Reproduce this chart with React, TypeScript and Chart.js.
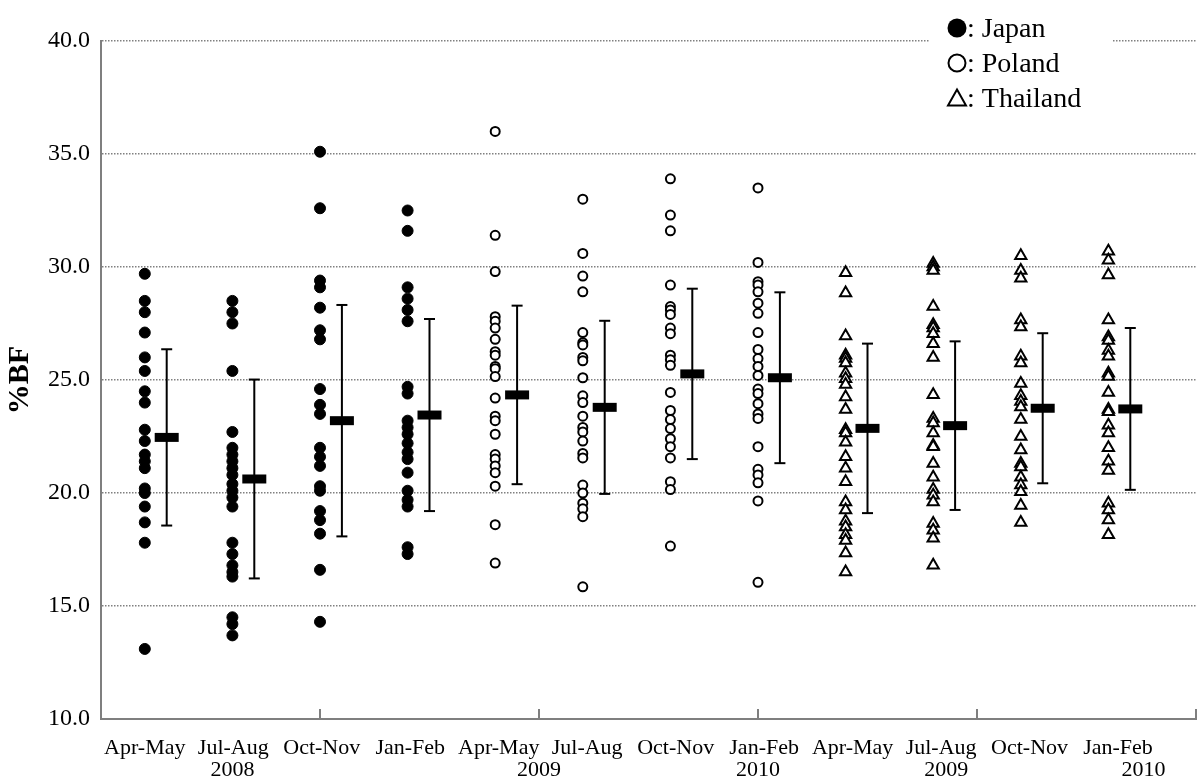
import React, { useEffect, useRef } from 'react';
import { Chart, registerables } from 'chart.js';

Chart.register(...registerables);

const CATEGORIES = ['Apr-May', 'Jul-Aug', 'Oct-Nov', 'Jan-Feb', 'Apr-May', 'Jul-Aug', 'Oct-Nov', 'Jan-Feb', 'Apr-May', 'Jul-Aug', 'Oct-Nov', 'Jan-Feb'];
const YEAR_LABELS = ['2008', '2009', '2010', '2009', '2010'];
const Y_TICKS = [10, 15, 20, 25, 30, 35, 40];
const LEGEND_LABELS = ['Japan', 'Poland', 'Thailand'];

const JAPAN = [
  [29.7, 28.5, 28.0, 27.1, 26.0, 25.4, 24.5, 24.0, 22.8, 22.3, 21.7, 21.4, 21.1, 20.2, 20.0, 19.4, 18.7, 17.8, 13.1],
  [28.5, 28.0, 27.5, 25.4, 22.7, 22.0, 21.7, 21.4, 21.1, 20.8, 20.4, 20.1, 19.8, 19.4, 17.8, 17.3, 16.8, 16.5, 16.3, 14.5, 14.2, 13.7],
  [35.1, 32.6, 29.4, 29.1, 28.2, 27.2, 26.8, 24.6, 23.9, 23.5, 22.0, 21.6, 21.2, 20.3, 20.1, 19.2, 18.8, 18.2, 16.6, 14.3],
  [32.5, 31.6, 29.1, 28.6, 28.1, 27.6, 24.7, 24.4, 23.2, 22.9, 22.6, 22.2, 21.8, 21.5, 20.9, 20.1, 19.7, 19.4, 17.6, 17.3],
];
const POLAND = [
  [36.0, 31.4, 29.8, 27.8, 27.6, 27.3, 26.8, 26.25, 26.1, 25.6, 25.5, 25.15, 24.2, 23.4, 23.2, 22.6, 21.7, 21.5, 21.2, 20.9, 20.3, 18.6, 16.9],
  [33.0, 30.6, 29.6, 28.9, 27.1, 26.65, 26.55, 26.0, 25.85, 25.1, 24.3, 24.0, 23.4, 22.9, 22.7, 22.3, 21.75, 21.55, 20.35, 20.0, 19.55, 19.3, 18.95, 15.85],
  [33.9, 32.3, 31.6, 29.2, 28.25, 28.1, 27.9, 27.3, 27.05, 26.1, 25.9, 25.65, 24.45, 23.65, 23.25, 22.85, 22.4, 22.05, 21.55, 20.5, 20.15, 17.65],
  [33.5, 30.2, 29.35, 29.2, 28.9, 28.4, 27.95, 27.1, 26.35, 25.95, 25.6, 25.2, 24.6, 24.4, 23.95, 23.5, 23.3, 22.05, 21.05, 20.8, 20.45, 19.65, 16.05],
];
const THAILAND = [
  [29.75, 28.85, 26.95, 26.1, 25.95, 25.75, 25.3, 25.05, 24.8, 24.25, 23.7, 22.8, 22.65, 22.25, 21.6, 21.1, 20.5, 19.6, 19.25, 18.75, 18.5, 18.15, 17.9, 17.35, 16.5],
  [30.15, 30.0, 29.85, 28.25, 27.45, 27.3, 27.05, 26.6, 26.0, 24.35, 23.3, 23.1, 22.65, 22.1, 22.05, 21.3, 20.7, 20.15, 19.9, 19.6, 18.65, 18.35, 18.0, 16.8],
  [30.5, 29.85, 29.5, 27.65, 27.35, 26.05, 25.75, 24.85, 24.3, 24.05, 23.8, 23.25, 22.5, 21.9, 21.3, 21.15, 20.7, 20.35, 20.05, 19.45, 18.7],
  [30.7, 30.3, 29.65, 27.65, 26.9, 26.75, 26.3, 26.05, 25.3, 25.15, 24.45, 23.7, 23.6, 23.0, 22.65, 22.0, 21.4, 21.0, 19.55, 19.25, 18.8, 18.15],
];
const MEANS = [22.46, 20.62, 23.2, 23.45, 24.34, 23.79, 25.27, 25.1, 22.86, 22.98, 23.75, 23.72];
const SDS = [3.9, 4.4, 5.12, 4.25, 3.95, 3.83, 3.77, 3.78, 3.75, 3.73, 3.32, 3.58];

const FONT = "'Liberation Serif', 'Times New Roman', serif";

const decorPlugin = {
  id: 'decor',
  afterDraw(chart: any) {
    const { ctx, chartArea, scales } = chart;
    const xs = scales.x;
    ctx.save();
    // inward tick marks on the x axis
    ctx.strokeStyle = '#7f7f7f';
    ctx.lineWidth = 2;
    xs.ticks.forEach((t: any, i: number) => {
      if (i === 0) return;
      const px = xs.getPixelForValue(t.value);
      ctx.beginPath();
      ctx.moveTo(px, chartArea.bottom);
      ctx.lineTo(px, chartArea.bottom - 10);
      ctx.stroke();
    });
    // category labels
    ctx.fillStyle = '#000';
    ctx.font = `22px ${FONT}`;
    ctx.textAlign = 'center';
    ctx.textBaseline = 'alphabetic';
    CATEGORIES.forEach((c, i) => {
      ctx.fillText(c, xs.getPixelForValue(i * 1.01), chartArea.bottom + 35);
    });
    const yearAt = [1, 4.5, 7, 9.15, 11.4];
    YEAR_LABELS.forEach((y, i) => {
      ctx.fillText(y, xs.getPixelForValue(yearAt[i]), chartArea.bottom + 57);
    });
    // legend
    const lx = chartArea.right - 267;
    ctx.fillStyle = '#fff';
    ctx.fillRect(lx, 0, 184, 115);
    ctx.fillStyle = '#000';
    ctx.strokeStyle = '#000';
    ctx.lineWidth = 2;
    const mx = lx + 28;
    const base = [37, 72, 107];
    ctx.beginPath();
    ctx.arc(mx, base[0] - 9, 9.5, 0, Math.PI * 2);
    ctx.fill();
    ctx.beginPath();
    ctx.arc(mx, base[1] - 9, 8.5, 0, Math.PI * 2);
    ctx.stroke();
    const ty = base[2] - 9;
    ctx.beginPath();
    ctx.moveTo(mx, ty - 8.5);
    ctx.lineTo(mx + 9, ty + 7.5);
    ctx.lineTo(mx - 9, ty + 7.5);
    ctx.closePath();
    ctx.stroke();
    ctx.font = `28px ${FONT}`;
    ctx.textAlign = 'left';
    LEGEND_LABELS.forEach((l, i) => {
      ctx.fillText(': ' + l, mx + 10, base[i]);
    });
    ctx.restore();
  },
};

export default function App() {
  const ref = useRef<HTMLCanvasElement>(null);
  useEffect(() => {
    if (!ref.current) return;
    const japanData = JAPAN.flatMap((vals, c) => vals.map((v) => ({ x: c, y: v })));
    const polandData = POLAND.flatMap((vals, c) => vals.map((v) => ({ x: 4 + c, y: v })));
    const thaiData = THAILAND.flatMap((vals, c) => vals.map((v) => ({ x: 8 + c, y: v })));
    const meanData = MEANS.map((m, i) => ({ x: i + 0.25, y: m }));
    const errData = MEANS.flatMap((m, i) => [
      { x: i + 0.25, y: m - SDS[i] },
      { x: i + 0.25, y: m + SDS[i] },
      { x: i + 0.25, y: null },
    ]);
    const chart = new Chart(ref.current, {
      type: 'scatter',
      data: {
        datasets: [
          {
            label: 'mean',
            data: meanData,
            pointStyle: 'line',
            pointRadius: 12,
            pointBorderWidth: 9,
            pointBorderColor: '#000',
            pointBackgroundColor: '#000',
          },
          {
            label: 'sd',
            type: 'line',
            data: errData as any,
            showLine: true,
            spanGaps: false,
            borderColor: '#000',
            borderWidth: 2,
            pointStyle: 'line',
            pointRadius: 5.5,
            pointBorderWidth: 2,
            pointBorderColor: '#000',
          },
          {
            label: 'Japan',
            data: japanData,
            pointStyle: 'circle',
            pointRadius: 5.5,
            pointBorderWidth: 1,
            pointBackgroundColor: '#000',
            pointBorderColor: '#000',
          },
          {
            label: 'Poland',
            data: polandData,
            pointStyle: 'circle',
            pointRadius: 4.5,
            pointBorderWidth: 2,
            pointBackgroundColor: '#fff',
            pointBorderColor: '#000',
          },
          {
            label: 'Thailand',
            data: thaiData,
            pointStyle: 'triangle',
            pointRadius: 6.5,
            pointBorderWidth: 2,
            pointBackgroundColor: '#fff',
            pointBorderColor: '#000',
          },
        ],
      },
      options: {
        responsive: false,
        animation: false,
        events: [],
        layout: { autoPadding: false, padding: { top: 41, right: 4, left: 0, bottom: 0 } },
        plugins: { legend: { display: false }, tooltip: { enabled: false } },
        scales: {
          x: {
            type: 'linear',
            min: -0.5,
            max: 12,
            ticks: { stepSize: 2.5, display: false },
            grid: { display: false },
            border: { display: true, color: '#7f7f7f', width: 2 },
            afterFit: (s: any) => { s.height = 59; s.paddingLeft = 0; s.paddingRight = 0; },
          },
          y: {
            type: 'linear',
            min: Y_TICKS[0],
            max: Y_TICKS[Y_TICKS.length - 1],
            afterBuildTicks: (s: any) => { s.ticks = Y_TICKS.map((v) => ({ value: v })); },
            ticks: {
              stepSize: 5,
              padding: 11,
              color: '#000',
              font: { family: FONT, size: 24 },
              callback: (v: any) => Number(v).toFixed(1),
            },
            grid: {
              drawTicks: false,
              lineWidth: 1.5,
              color: (c: any) => (c.tick && c.tick.value === Y_TICKS[0] ? 'rgba(0,0,0,0)' : '#808080'),
            },
            border: { display: true, color: '#7f7f7f', width: 2, dash: [1.5, 1.5] },
            title: {
              display: true,
              text: '%BF',
              color: '#000',
              font: { family: FONT, size: 30, weight: 'bold' },
              padding: { top: 2, bottom: 0 },
            },
            afterFit: (s: any) => { s.width = 101; },
          },
        },
      },
      plugins: [decorPlugin],
    });
    return () => chart.destroy();
  }, []);
  return (
    <div style={{ position: 'absolute', left: 0, top: 0, width: 1200, height: 778, background: '#fff' }}>
      <canvas ref={ref} width={1200} height={778} />
    </div>
  );
}
